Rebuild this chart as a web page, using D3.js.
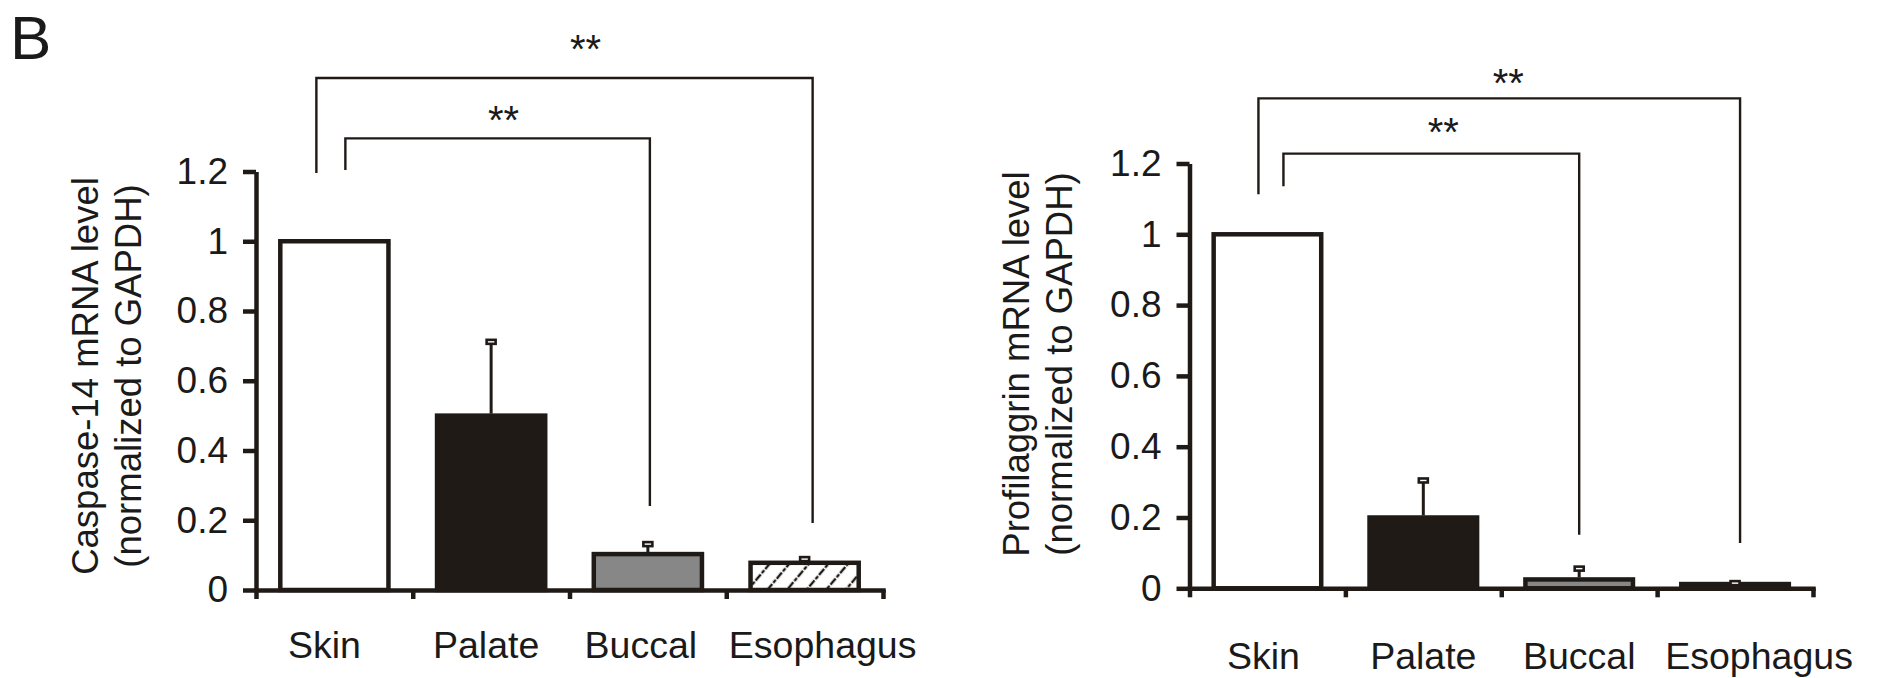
<!DOCTYPE html>
<html>
<head>
<meta charset="utf-8">
<script src="https://cdn.jsdelivr.net/npm/d3@7"></script>
<style>
  html, body { margin: 0; padding: 0; background: #ffffff; }
  svg { display: block; }
  text { font-family: "Liberation Sans", Arial, Helvetica, sans-serif; fill: #1a1a1a; }
</style>
</head>
<body>
<svg id="chart" width="1878" height="678"></svg>
<script>
// ---------------- data ----------------
const categories = ["Skin", "Palate", "Buccal", "Esophagus"];
const yTickValues = [0, 0.2, 0.4, 0.6, 0.8, 1, 1.2];

const caspaseMean = [1.0, 0.50, 0.103, 0.078];
const caspaseErr  = [0, 0.213, 0.030, 0.012];

const profilaggrinMean = [1.0, 0.20, 0.025, 0.012];
const profilaggrinErr  = [0, 0.106, 0.032, 0.004];

const yLabelCaspase = ["Caspase-14 mRNA level", "(normalized to GAPDH)"];
const yLabelProfilaggrin = ["Profilaggrin mRNA level", "(normalized to GAPDH)"];

// significance brackets: categories compared, bracket height and foot ends (data units)
const caspaseSig = [
  { from: "Skin", to: "Esophagus", label: "**", level: 1.468, footFrom: 1.196, footTo: 0.192, labelLevel: 1.568 },
  { from: "Skin", to: "Buccal",    label: "**", level: 1.295, footFrom: 1.204, footTo: 0.241, labelLevel: 1.365 }
];
const profilaggrinSig = [
  { from: "Skin", to: "Esophagus", label: "**", level: 1.384, footFrom: 1.113, footTo: 0.128, labelLevel: 1.444 },
  { from: "Skin", to: "Buccal",    label: "**", level: 1.228, footFrom: 1.136, footTo: 0.151, labelLevel: 1.305 }
];

// ---------------- drawing ----------------
const INK = "#201a17";
const svg = d3.select("#chart");

const defs = svg.append("defs");
const hatch = defs.append("pattern")
  .attr("id", "hatch")
  .attr("patternUnits", "userSpaceOnUse")
  .attr("width", 15).attr("height", 15)
  .attr("patternTransform", "rotate(40)");
hatch.append("rect").attr("width", 15).attr("height", 15).attr("fill", "#ffffff");
hatch.append("line")
  .attr("x1", 7).attr("y1", 0).attr("x2", 7).attr("y2", 15)
  .attr("stroke", INK).attr("stroke-width", 2.4)
  .attr("stroke-dasharray", "4,1.5");

const barFills = ["#ffffff", INK, "#878787", "url(#hatch)"];

svg.append("text")
  .attr("x", 10).attr("y", 59)
  .attr("font-size", 62)
  .text("B");

function drawPanel(cfg) {
  const g = svg.append("g");
  const n = categories.length;

  const x = d3.scaleBand().domain(categories).range([cfg.x0, cfg.x1])
    .paddingInner(0.31).paddingOuter(0.155);
  const xEdges = d3.scaleLinear().domain([0, n]).range([cfg.x0, cfg.x1]);
  const y = d3.scaleLinear().domain([0, 1.2]).range([cfg.y0, cfg.y1]);

  // bars
  g.selectAll("rect.bar").data(categories).join("rect")
    .attr("class", "bar")
    .attr("x", d => x(d))
    .attr("width", x.bandwidth())
    .attr("y", (d, i) => y(cfg.mean[i]))
    .attr("height", (d, i) => y(0) - y(cfg.mean[i]))
    .attr("fill", (d, i) => barFills[i])
    .attr("stroke", INK)
    .attr("stroke-width", 4.5);

  // error bars (upper only)
  const errData = categories.map((c, i) => ({ c, m: cfg.mean[i], e: cfg.err[i] })).filter(d => d.e > 0);
  g.selectAll("line.err").data(errData).join("line")
    .attr("class", "err")
    .attr("x1", d => x(d.c) + x.bandwidth() / 2)
    .attr("x2", d => x(d.c) + x.bandwidth() / 2)
    .attr("y1", d => y(d.m) - 2)
    .attr("y2", d => y(d.m + d.e))
    .attr("stroke", INK).attr("stroke-width", 3);
  g.selectAll("rect.cap").data(errData).join("rect")
    .attr("class", "cap")
    .attr("x", d => x(d.c) + x.bandwidth() / 2 - 4.5)
    .attr("y", d => y(d.m + d.e) - 1.5)
    .attr("width", 9).attr("height", 4)
    .attr("fill", "#ffffff")
    .attr("stroke", INK).attr("stroke-width", 2.6);

  // x axis (ticks between categories)
  const xAxis = g.append("g")
    .attr("transform", `translate(0,${cfg.y0})`)
    .call(d3.axisBottom(xEdges).tickValues(d3.range(n + 1)).tickSizeInner(9).tickSizeOuter(0).tickFormat(""));
  xAxis.select(".domain").attr("stroke", INK).attr("stroke-width", 4.5).attr("stroke-linecap", "square");
  xAxis.selectAll(".tick line").attr("stroke", INK).attr("stroke-width", 4.5);

  // category labels
  const catAxis = g.append("g")
    .attr("transform", `translate(0,${cfg.xLabelBaseline})`)
    .call(d3.axisBottom(x).tickSize(0).tickPadding(0));
  catAxis.select(".domain").remove();
  catAxis.selectAll(".tick text")
    .attr("x", (d, i) => cfg.catDx[i])
    .attr("y", 0).attr("dy", 0)
    .attr("font-size", 37.5)
    .attr("font-family", "Liberation Sans, Arial, sans-serif")
    .attr("fill", "#1a1a1a");

  // y axis
  const yAxis = g.append("g")
    .attr("transform", `translate(${cfg.x0},0)`)
    .call(d3.axisLeft(y).tickValues(yTickValues).tickSizeInner(13).tickSizeOuter(0).tickPadding(15)
      .tickFormat(d => String(d)));
  yAxis.select(".domain").attr("stroke", INK).attr("stroke-width", 4.5);
  yAxis.selectAll(".tick line").attr("stroke", INK).attr("stroke-width", 4.5);
  yAxis.selectAll(".tick text")
    .attr("font-size", 37)
    .attr("font-family", "Liberation Sans, Arial, sans-serif")
    .attr("fill", "#1a1a1a");

  // y axis title (two lines, rotated)
  cfg.yLabel.forEach((line, i) => {
    g.append("text")
      .attr("transform", `translate(${cfg.labelX[i]},${cfg.labelY}) rotate(-90)`)
      .attr("text-anchor", "middle")
      .attr("font-size", 36.5)
      .text(line);
  });

  // significance brackets
  cfg.sig.forEach((s, k) => {
    const off = cfg.sigOffsets[k];
    const xa = x(s.from) + x.bandwidth() / 2 + off.dxFrom;
    const xb = x(s.to) + x.bandwidth() / 2 + off.dxTo;
    const yl = y(s.level);
    g.append("path")
      .attr("d", `M${xa},${y(s.footFrom)} V${yl} H${xb} V${y(s.footTo)}`)
      .attr("fill", "none").attr("stroke", INK).attr("stroke-width", 2.4);
    g.append("text")
      .attr("x", (xa + xb) / 2 + off.labelDx)
      .attr("y", y(s.labelLevel) + 20)
      .attr("text-anchor", "middle")
      .attr("font-size", 40)
      .text(s.label);
  });
}

drawPanel({
  x0: 256, x1: 883, y0: 590, y1: 171.5,
  mean: caspaseMean, err: caspaseErr,
  yLabel: yLabelCaspase, labelX: [98, 141], labelY: 376,
  xLabelBaseline: 658,
  catDx: [-10, -5, -7, 18],
  sig: caspaseSig,
  sigOffsets: [ { dxFrom: -18, dxTo: 8, labelDx: 21 }, { dxFrom: 11, dxTo: 2, labelDx: 6 } ]
});

drawPanel({
  x0: 1189.5, x1: 1813, y0: 588.3, y1: 163.5,
  mean: profilaggrinMean, err: profilaggrinErr,
  yLabel: yLabelProfilaggrin, labelX: [1029, 1072], labelY: 364,
  xLabelBaseline: 669,
  catDx: [-4, 0, 0, 24],
  sig: profilaggrinSig,
  sigOffsets: [ { dxFrom: -9, dxTo: 5, labelDx: 9 }, { dxFrom: 16, dxTo: 0, labelDx: 12 } ]
});
</script>
</body>
</html>
